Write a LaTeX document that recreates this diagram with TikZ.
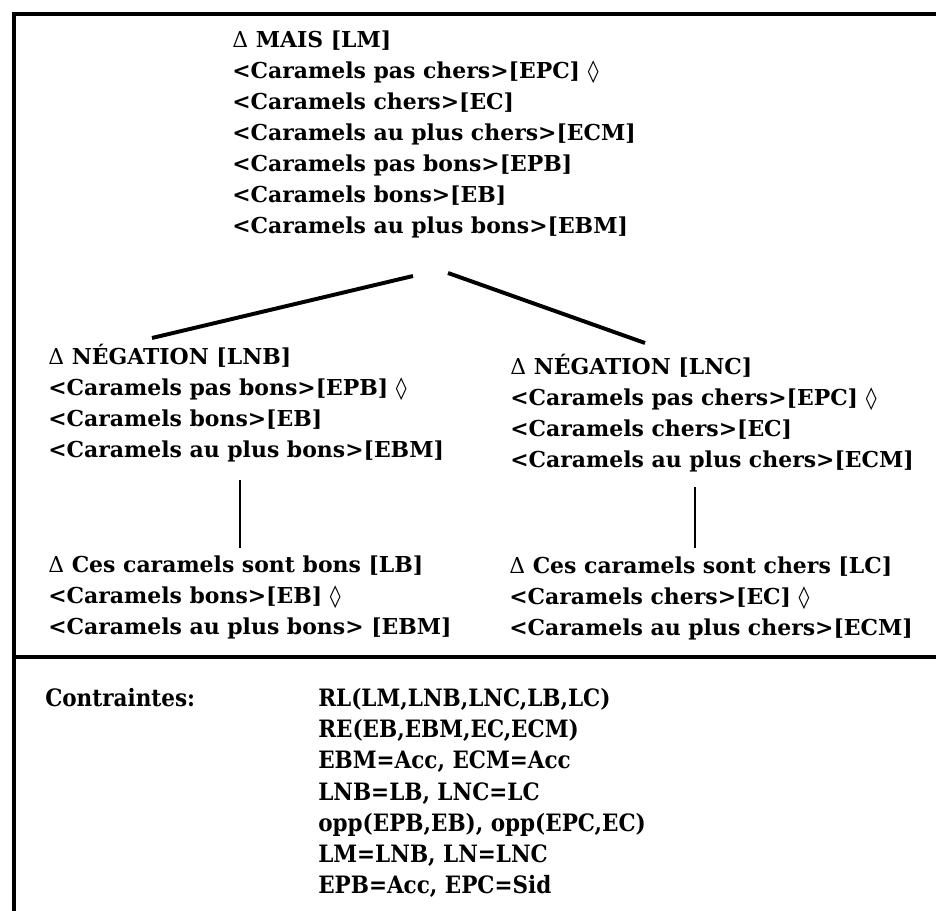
\documentclass[tikz,border=0pt]{standalone}
\usepackage{fontspec}
\setmainfont{DejaVu Serif}
\newfontfamily\condfont{DejaVu Serif Condensed}
\newfontfamily\symfont{DejaVu Sans}

\newcommand{\tri}{{\mdseries Δ}}
\newcommand{\loz}{{\symfont\mdseries ◊}}

\begin{document}
\begin{tikzpicture}[x=0.025cm, y=-0.025cm,
        txt/.style={font=\fontsize{15.6}{22}\selectfont\bfseries,
                    align=left, anchor=north west, inner sep=0pt},
        low/.style={font=\condfont\fontsize{17}{22.2}\selectfont\bfseries,
                    align=left, anchor=north west, inner sep=0pt},
        frame/.style={line width=2.2pt},
        link/.style={line width=2.8pt},
        stem/.style={line width=1.8pt}
    ]
    \useasboundingbox (0,0) rectangle (936,911);

    % Frame
    \draw[frame] (14,911) -- (14,14) -- (936,14);
    \draw[frame] (14,657) -- (936,657);

    % ---- Top: MAIS ----
    \node[txt] (lm) at (232,31) {\tri{} MAIS [LM]\\
        <Caramels pas chers>[EPC] \loz\\
        <Caramels chers>[EC]\\
        <Caramels au plus chers>[ECM]\\
        <Caramels pas bons>[EPB]\\
        <Caramels bons>[EB]\\
        <Caramels au plus bons>[EBM]};

    % ---- Middle: negations ----
    \node[txt] (lnb) at (48,344) {\tri{} N\'EGATION [LNB]\\
        <Caramels pas bons>[EPB] \loz\\
        <Caramels bons>[EB]\\
        <Caramels au plus bons>[EBM]};
    \node[txt] (lnc) at (510,354) {\tri{} N\'EGATION [LNC]\\
        <Caramels pas chers>[EPC] \loz\\
        <Caramels chers>[EC]\\
        <Caramels au plus chers>[ECM]};

    % ---- Bottom: assertions ----
    \node[txt] (lb) at (48,556) {\tri{} Ces caramels sont bons [LB]\\
        <Caramels bons>[EB] \loz\\
        <Caramels au plus bons> [EBM]};
    \node[txt] (lc) at (509,557) {\tri{} Ces caramels sont chers [LC]\\
        <Caramels chers>[EC] \loz\\
        <Caramels au plus chers>[ECM]};

    % ---- Links ----
    \coordinate (lmL) at (413,276);
    \coordinate (lmR) at (448,273);
    \coordinate (lnbT) at (152,338);
    \coordinate (lncT) at (645,343);
    \draw[link] (lmL) -- (lnbT);
    \draw[link] (lmR) -- (lncT);

    \coordinate (lnbB) at (240,480);
    \coordinate (lbT) at (240,548);
    \coordinate (lncB) at (695,487);
    \coordinate (lcT) at (695,548);
    \draw[stem] (lnbB) -- (lbT);
    \draw[stem] (lncB) -- (lcT);

    % ---- Constraints ----
    \node[low] (contr) at (45,688) {Contraintes:};
    \node[low] (rules) at (318,688) {RL(LM,LNB,LNC,LB,LC)\\
        RE(EB,EBM,EC,ECM)\\
        EBM=Acc, ECM=Acc\\
        LNB=LB, LNC=LC\\
        opp(EPB,EB), opp(EPC,EC)\\
        LM=LNB, LN=LNC\\
        EPB=Acc, EPC=Sid};
\end{tikzpicture}
\end{document}
